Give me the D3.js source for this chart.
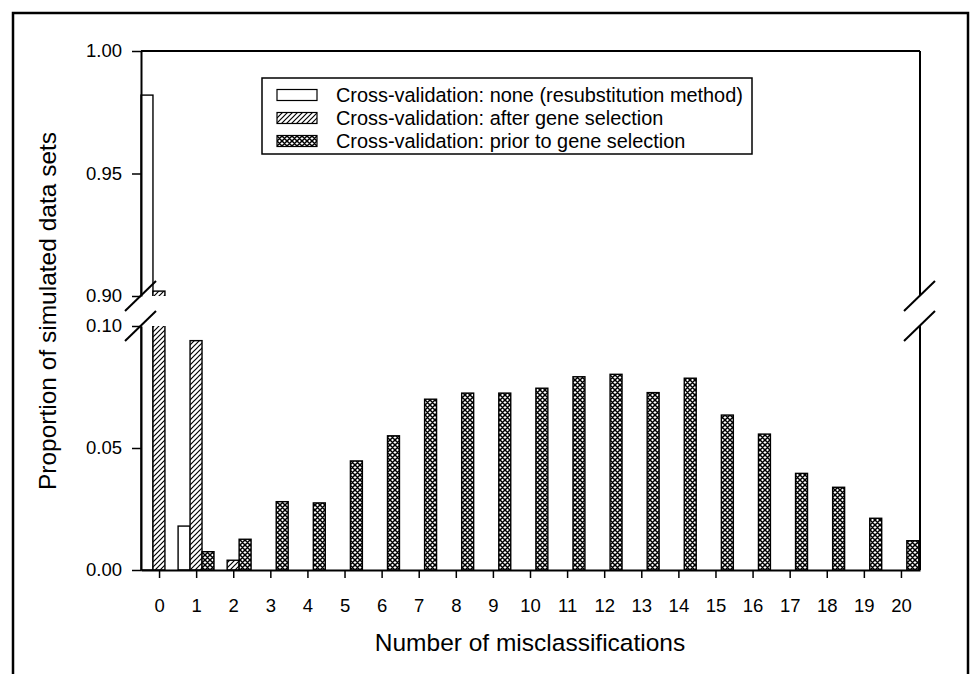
<!DOCTYPE html>
<html>
<head>
<meta charset="utf-8">
<script src="https://cdn.jsdelivr.net/npm/d3@7"></script>
<style>
  body { margin: 0; background: #fff; }
  svg text { font-family: "Liberation Sans", Arial, sans-serif; fill: #000; }
</style>
</head>
<body>
<svg id="chart" width="972" height="674"></svg>
<script>
// number of misclassifications (x categories)
const categories = [0, 1, 2, 3, 4, 5, 6, 7, 8, 9, 10, 11, 12, 13, 14, 15, 16, 17, 18, 19, 20];

// proportion of simulated data sets, one array per method
const noneCV  = [0.982, 0.018, 0, 0, 0, 0, 0, 0, 0, 0, 0, 0, 0, 0, 0, 0, 0, 0, 0, 0, 0];
const afterCV = [0.902, 0.094, 0.004, 0, 0, 0, 0, 0, 0, 0, 0, 0, 0, 0, 0, 0, 0, 0, 0, 0, 0];
const priorCV = [0, 0.0075, 0.0126, 0.028, 0.0275, 0.0447, 0.055, 0.070, 0.0725, 0.0725, 0.0745,
                 0.0792, 0.0802, 0.0727, 0.0786, 0.0635, 0.0557, 0.0396, 0.0339, 0.0212, 0.012];

const seriesNames = ["Cross-validation: none (resubstitution method)",
                     "Cross-validation: after gene selection",
                     "Cross-validation: prior to gene selection"];
const seriesKeys = ["none", "after", "prior"];

const upperTicks = [0.90, 0.95, 1.00];
const lowerTicks = [0.00, 0.05, 0.10];

const series = [
    { key: "none",  name: seriesNames[0], values: noneCV,  fill: "#fff" },
    { key: "after", name: seriesNames[1], values: afterCV, fill: "url(#hatch)" },
    { key: "prior", name: seriesNames[2], values: priorCV, fill: "url(#cross)" }
];

const svg = d3.select("svg#chart");

const plotLeft = 141, plotRight = 920;

// two y scales for the broken axis
const yUpper = d3.scaleLinear().domain([0.90, 1.00]).range([296, 51]);
const yLower = d3.scaleLinear().domain([0.00, 0.10]).range([570, 326]);

const x = d3.scaleBand().domain(categories).range([plotLeft, plotRight]).padding(0);
const xInner = d3.scaleBand().domain(seriesKeys).range([0, x.bandwidth() - 1.2]).padding(0);

// patterns
const defs = svg.append("defs");
const hatch = defs.append("pattern").attr("id", "hatch")
    .attr("patternUnits", "userSpaceOnUse").attr("width", 5).attr("height", 5);
hatch.append("rect").attr("width", 5).attr("height", 5).attr("fill", "#fff");
hatch.append("path").attr("d", "M0,5 L5,0 M-1,1 L1,-1 M4,6 L6,4")
    .attr("stroke", "#000").attr("stroke-width", 1.2);

const cross = defs.append("pattern").attr("id", "cross")
    .attr("patternUnits", "userSpaceOnUse").attr("width", 5).attr("height", 5);
cross.append("rect").attr("width", 5).attr("height", 5).attr("fill", "#fff");
cross.append("path").attr("d", "M0,5 L5,0 M-1,1 L1,-1 M4,6 L6,4 M0,0 L5,5 M-1,4 L1,6 M4,-1 L6,1")
    .attr("stroke", "#000").attr("stroke-width", 1.5);

defs.append("clipPath").attr("id", "clipUpper").append("rect")
    .attr("x", plotLeft - 2).attr("y", 51).attr("width", plotRight - plotLeft + 4).attr("height", 296 - 51);
defs.append("clipPath").attr("id", "clipLower").append("rect")
    .attr("x", plotLeft - 2).attr("y", 326).attr("width", plotRight - plotLeft + 4).attr("height", 570 - 326 + 1);

// outer frame
svg.append("rect")
    .attr("x", 13).attr("y", 13).attr("width", 955).attr("height", 720)
    .attr("fill", "none").attr("stroke", "#000").attr("stroke-width", 2.5);

// bars
const lowerG = svg.append("g").attr("clip-path", "url(#clipLower)");
const upperG = svg.append("g").attr("clip-path", "url(#clipUpper)");

series.forEach(s => {
    lowerG.selectAll("rect.b-" + s.key)
        .data(categories.map((c, i) => ({ c: c, v: s.values[i] })))
        .enter().append("rect")
        .attr("class", "b-" + s.key)
        .attr("x", d => x(d.c) + xInner(s.key))
        .attr("width", xInner.bandwidth())
        .attr("y", d => yLower(Math.min(d.v, 0.101)))
        .attr("height", d => yLower(0) - yLower(Math.min(d.v, 0.101)))
        .attr("fill", s.fill)
        .attr("stroke", "#000").attr("stroke-width", 1.4);

    upperG.selectAll("rect.b-" + s.key)
        .data(categories.map((c, i) => ({ c: c, v: s.values[i] })).filter(d => d.v > 0.9))
        .enter().append("rect")
        .attr("class", "b-" + s.key)
        .attr("x", d => x(d.c) + xInner(s.key))
        .attr("width", xInner.bandwidth())
        .attr("y", d => yUpper(d.v))
        .attr("height", d => yUpper(0.9) + 2 - yUpper(d.v))
        .attr("fill", s.fill)
        .attr("stroke", "#000").attr("stroke-width", 1.4);
});

// axes
const fmt = d3.format(".2f");
const axUpper = svg.append("g").attr("transform", `translate(${plotLeft},0)`)
    .call(d3.axisLeft(yUpper).tickValues(upperTicks).tickFormat(fmt).tickSize(9).tickSizeOuter(0).tickPadding(10));
const axLower = svg.append("g").attr("transform", `translate(${plotLeft},0)`)
    .call(d3.axisLeft(yLower).tickValues(lowerTicks).tickFormat(fmt).tickSize(9).tickSizeOuter(0).tickPadding(10));
const axBottom = svg.append("g").attr("transform", `translate(0,${yLower(0)})`)
    .call(d3.axisBottom(x).tickSize(8).tickSizeOuter(0).tickPadding(21));

[axUpper, axLower, axBottom].forEach(a => {
    a.selectAll("path.domain").attr("stroke", "#000").attr("stroke-width", 2);
    a.selectAll(".tick line").attr("stroke", "#000").attr("stroke-width", 1.5);
    a.selectAll(".tick text").attr("font-size", 18.5).style("font-family", '"Liberation Sans", Arial, sans-serif').attr("fill", "#000");
});

// top and right frame of plot
svg.append("line")
    .attr("x1", plotLeft).attr("x2", plotRight)
    .attr("y1", yUpper(1)).attr("y2", yUpper(1))
    .attr("stroke", "#000").attr("stroke-width", 2);
svg.append("line")
    .attr("x1", plotRight).attr("x2", plotRight)
    .attr("y1", yUpper(1)).attr("y2", yUpper(0.9))
    .attr("stroke", "#000").attr("stroke-width", 2);
svg.append("line")
    .attr("x1", plotRight).attr("x2", plotRight)
    .attr("y1", yLower(0.1)).attr("y2", yLower(0))
    .attr("stroke", "#000").attr("stroke-width", 2);

// break marks
[plotLeft, plotRight].forEach(bx => {
    [yUpper(0.9), yLower(0.1)].forEach(by => {
        svg.append("line")
            .attr("x1", bx - 16).attr("y1", by + 15)
            .attr("x2", bx + 15).attr("y2", by - 15)
            .attr("stroke", "#000").attr("stroke-width", 2);
    });
});

// legend
const legend = svg.append("g").attr("transform", "translate(262,78)");
legend.append("rect")
    .attr("width", 490).attr("height", 76)
    .attr("fill", "#fff").attr("stroke", "#000").attr("stroke-width", 1.5);
series.forEach((s, i) => {
    const row = legend.append("g").attr("transform", `translate(15,${17 + i * 23})`);
    row.append("rect")
        .attr("width", 40).attr("height", 11).attr("y", -5.5)
        .attr("fill", s.fill).attr("stroke", "#000").attr("stroke-width", 1.2);
    row.append("text")
        .attr("x", 59).attr("dy", "0.35em")
        .attr("font-size", 19.9)
        .text(s.name);
});

// axis titles
svg.append("text")
    .attr("x", 530).attr("y", 651)
    .attr("text-anchor", "middle")
    .attr("font-size", 24.5)
    .text("Number of misclassifications");

svg.append("text")
    .attr("transform", "translate(56,311) rotate(-90)")
    .attr("text-anchor", "middle")
    .attr("font-size", 24.5)
    .text("Proportion of simulated data sets");
</script>
</body>
</html>
